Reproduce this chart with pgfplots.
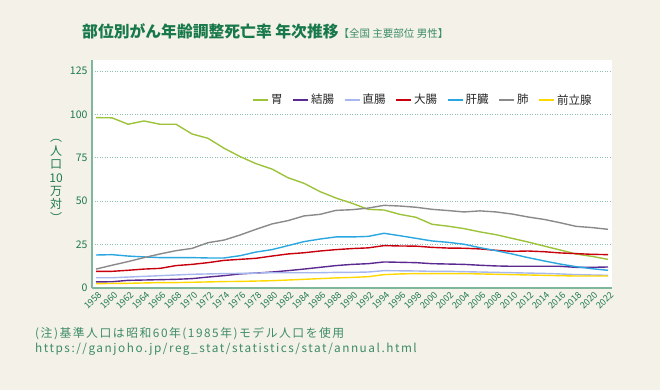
\documentclass[border=0pt]{standalone}
\usepackage{fontspec}
\setmainfont{Noto Sans CJK JP}
\newfontfamily\notefont[LetterSpace=13]{Noto Sans CJK JP}
\usepackage{pgfplots}
\pgfplotsset{compat=1.18}
\definecolor{bgc}{HTML}{F4F1E9}
\definecolor{titlegreen}{HTML}{17784A}
\definecolor{tickgreen}{HTML}{1E7A50}
\definecolor{notegreen}{HTML}{3D8C67}
\definecolor{axisgreen}{HTML}{7FB79C}
\definecolor{gridc}{HTML}{8EC0AF}
\definecolor{cI}{HTML}{9DC33B}
\definecolor{cKe}{HTML}{5B2A91}
\definecolor{cCho}{HTML}{A6B6EE}
\definecolor{cDai}{HTML}{C8000E}
\definecolor{cKan}{HTML}{2AA7E0}
\definecolor{cHai}{HTML}{8A8A8A}
\definecolor{cZen}{HTML}{FFD800}
\begin{document}
\begin{tikzpicture}
\useasboundingbox (0,0) rectangle (660pt,390pt);
\fill[bgc] (0,0) rectangle (660pt,390pt);
\node[anchor=west, inner sep=0pt, text=titlegreen] at (82pt,359pt)
  {{\fontsize{15.8}{18}\selectfont\bfseries 部位別がん年齢調整死亡率 年次推移}{\fontsize{10.5}{12}\selectfont\color{titlegreen!85} 【全国 主要部位 男性】}};
\node[text=tickgreen, align=center, inner sep=0pt, font=\fontsize{12}{13.4}\selectfont] at (56pt,209pt)
  {︵\\人\\口\\10\\万\\対\\︶};
\node[anchor=west, inner sep=0pt, text=notegreen, font=\notefont\fontsize{11.8}{13}\selectfont] at (35pt,56pt)
  {(注)基準人口は昭和60年(1985年)モデル人口を使用};
\node[anchor=west, inner sep=0pt, text=notegreen, font=\notefont\fontsize{11.8}{13}\selectfont] at (35pt,41pt)
  {https://ganjoho.jp/reg\_stat/statistics/stat/annual.html};
\begin{axis}[
  at={(92pt,102pt)}, anchor=south west,
  width=520pt, height=228pt, scale only axis,
  xmin=1957.5, xmax=2022.5, ymin=0, ymax=131.3,
  axis background/.style={fill=white},
  axis x line*=bottom, axis y line*=left,
  axis line style={draw=axisgreen, line width=2pt, -},
  major tick length=0pt,
  xtick={1958,1960,...,2022},
  ytick={0,25,50,75,100,125},
  /pgf/number format/1000 sep={},
  /pgf/number format/assume math mode=true,
  ticklabel style={text=tickgreen},
  yticklabel style={font=\fontsize{10.5}{12}\selectfont, xshift=-1pt},
  xticklabel style={font=\fontsize{9}{10}\selectfont, rotate=45, anchor=north east, inner sep=1pt, yshift=-2pt},
  ymajorgrids,
  major grid style={draw=gridc, line width=0.8pt, dash pattern=on 1.2pt off 1.3pt},
  legend columns=7,
  legend style={draw=none, fill=none, at={(0.637,0.825)}, anchor=center,
    font=\fontsize{11.5}{12}\selectfont, text=black!85,
    /tikz/every even column/.append style={column sep=8pt}},
  legend image code/.code={\draw[#1, line width=1.5pt] (0pt,0pt) -- (15pt,0pt);},
  every axis plot/.append style={line width=1.4pt, mark=none, line join=round},
]
\addplot[cI] coordinates {(1958,98.1)(1960,98.0)(1962,94.3)(1964,96.2)(1966,94.3)(1968,94.3)(1970,88.7)(1972,86.2)(1974,80.5)(1976,75.7)(1978,71.6)(1980,68.5)(1982,63.5)(1984,60.3)(1986,55.5)(1988,51.8)(1990,48.8)(1992,45.3)(1994,44.9)(1996,42.4)(1998,40.7)(2000,36.7)(2002,35.6)(2004,34.2)(2006,32.3)(2008,30.7)(2010,28.6)(2012,26.5)(2014,24.2)(2016,21.9)(2018,19.6)(2020,18.2)(2022,16.5)};
\addlegendentry{胃}
\addplot[cKe] coordinates {(1958,3.5)(1960,3.6)(1962,4.4)(1964,4.6)(1966,4.8)(1968,5.0)(1970,5.4)(1972,6.3)(1974,7.1)(1976,8.1)(1978,8.6)(1980,9.2)(1982,10.0)(1984,10.9)(1986,11.9)(1988,12.9)(1990,13.6)(1992,14.0)(1994,15.0)(1996,14.8)(1998,14.6)(2000,14.0)(2002,13.8)(2004,13.6)(2006,13.1)(2008,12.7)(2010,12.5)(2012,12.5)(2014,12.5)(2016,12.5)(2018,11.9)(2020,11.9)(2022,12.1)};
\addlegendentry{結腸}
\addplot[cCho] coordinates {(1958,5.9)(1960,5.9)(1962,6.3)(1964,6.7)(1966,7.1)(1968,7.5)(1970,7.9)(1972,8.1)(1974,8.3)(1976,8.4)(1978,8.6)(1980,8.8)(1982,8.8)(1984,8.8)(1986,8.8)(1988,9.0)(1990,9.0)(1992,9.2)(1994,10.0)(1996,9.9)(1998,9.8)(2000,9.6)(2002,9.6)(2004,9.4)(2006,9.2)(2008,9.0)(2010,8.8)(2012,8.6)(2014,8.4)(2016,8.1)(2018,7.7)(2020,7.5)(2022,7.3)};
\addlegendentry{直腸}
\addplot[cDai] coordinates {(1958,9.6)(1960,9.6)(1962,10.2)(1964,10.9)(1966,11.3)(1968,12.9)(1970,13.6)(1972,14.6)(1974,15.9)(1976,16.5)(1978,17.1)(1980,18.4)(1982,19.6)(1984,20.3)(1986,21.3)(1988,22.1)(1990,22.7)(1992,23.1)(1994,24.4)(1996,24.2)(1998,24.1)(2000,23.4)(2002,23.0)(2004,22.9)(2006,22.5)(2008,21.7)(2010,21.1)(2012,21.3)(2014,20.9)(2016,20.2)(2018,19.8)(2020,19.4)(2022,19.2)};
\addlegendentry{大腸}
\addplot[cKan] coordinates {(1958,19.0)(1960,19.2)(1962,18.4)(1964,17.9)(1966,17.5)(1968,17.5)(1970,17.5)(1972,17.3)(1974,17.3)(1976,18.6)(1978,20.7)(1980,22.1)(1982,24.4)(1984,26.7)(1986,28.2)(1988,29.4)(1990,29.4)(1992,29.7)(1994,31.5)(1996,30.1)(1998,28.6)(2000,27.1)(2002,26.3)(2004,25.2)(2006,23.2)(2008,21.5)(2010,19.6)(2012,17.5)(2014,15.6)(2016,13.8)(2018,12.3)(2020,11.1)(2022,10.2)};
\addlegendentry{肝臓}
\addplot[cHai] coordinates {(1958,10.9)(1960,13.1)(1962,15.2)(1964,17.5)(1966,19.6)(1968,21.5)(1970,22.8)(1972,26.1)(1974,27.6)(1976,30.5)(1978,33.8)(1980,36.9)(1982,38.8)(1984,41.5)(1986,42.4)(1988,44.7)(1990,45.1)(1992,46.0)(1994,47.6)(1996,47.2)(1998,46.5)(2000,45.3)(2002,44.6)(2004,43.8)(2006,44.4)(2008,43.8)(2010,42.6)(2012,40.9)(2014,39.5)(2016,37.6)(2018,35.5)(2020,34.8)(2022,33.8)};
\addlegendentry{肺}
\addplot[cZen] coordinates {(1958,2.5)(1960,2.6)(1962,2.7)(1964,2.9)(1966,3.1)(1968,3.1)(1970,3.3)(1972,3.5)(1974,3.7)(1976,3.8)(1978,4.0)(1980,4.2)(1982,4.6)(1984,5.0)(1986,5.4)(1988,5.8)(1990,6.1)(1992,6.5)(1994,7.7)(1996,8.1)(1998,8.3)(2000,8.3)(2002,8.3)(2004,8.3)(2006,8.1)(2008,7.9)(2010,7.7)(2012,7.5)(2014,7.3)(2016,7.1)(2018,6.9)(2020,6.9)(2022,6.9)};
\addlegendentry{前立腺}
\end{axis}
\end{tikzpicture}
\end{document}
